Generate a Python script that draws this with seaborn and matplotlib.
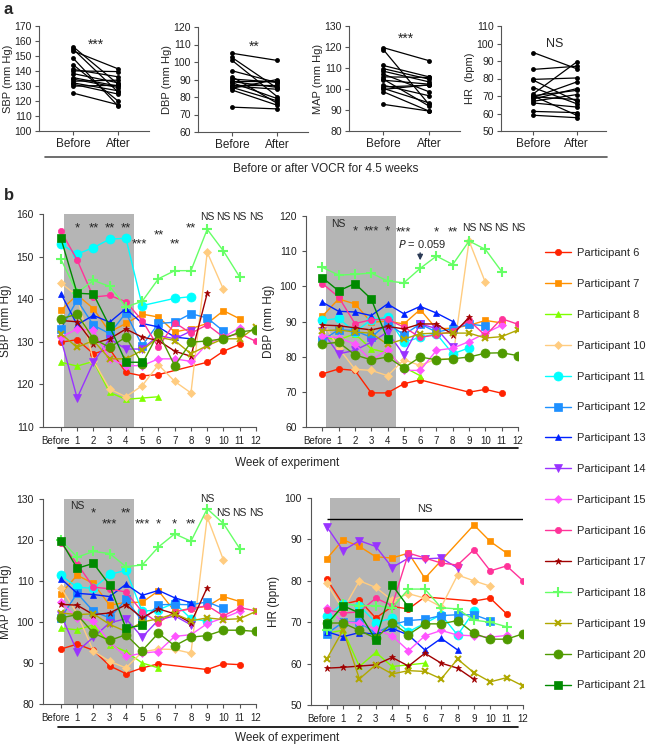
import numpy as np
import pandas as pd
import seaborn as sns
import matplotlib.pyplot as plt
from matplotlib.lines import Line2D
from matplotlib.transforms import ScaledTranslation

nan = np.nan

# ---- panel a: before / after means per participant
sbp_before = [156.3, 154.7, 153.4, 148.7, 144.3, 141.1, 140.1, 138.3, 135.6, 134.6, 133.2, 132.1, 131.2, 129.9, 125.3]
sbp_after = [131.2, 125.9, 141.4, 116.6, 119.9, 136.1, 139.6, 132.1, 129.9, 129.0, 133.9, 126.8, 124.6, 130.5, 117.5]
dbp_before = [105.0, 102.6, 101.0, 95.0, 91.6, 90.3, 89.3, 88.2, 86.9, 85.5, 84.0, 74.2, 86.3, 85.0, 88.8]
dbp_after = [100.9, 85.0, 80.2, 88.2, 76.4, 88.4, 89.3, 79.1, 86.9, 77.8, 75.3, 73.2, 84.4, 90.0, 85.5]
map_before = [119.7, 118.8, 111.2, 109.7, 108.5, 107.1, 104.7, 104.2, 101.8, 101.0, 100.3, 98.7, 92.7, 105.8, 99.8]
map_after = [113.5, 92.7, 105.8, 104.7, 103.4, 98.7, 91.9, 102.3, 96.8, 101.8, 93.4, 89.5, 89.5, 105.5, 102.0]
hr_before = [94.8, 85.2, 79.5, 79.0, 74.8, 71.3, 70.2, 69.2, 68.3, 67.0, 66.0, 61.2, 59.0, 69.5, 70.0]
hr_after = [85.6, 87.0, 80.3, 67.0, 65.6, 89.4, 73.2, 78.0, 74.2, 70.8, 63.7, 60.5, 57.6, 68.0, 59.0]

# ---- panel b: weekly values (Before, week 1..12)
weeks = ['Before'] + [str(i) for i in range(1, 13)]
participants = [6, 7, 8, 10, 11, 12, 13, 14, 15, 16, 17, 18, 19, 20, 21]

sbp = {
    6: [129.9, 130.5, 127.2, 128.3, 122.8, 122.0, 122.3, nan, nan, 125.2, 127.8, 129.4, nan],
    7: [137.4, 141.0, 137.8, 132.3, 134.3, 136.5, 135.8, 132.3, 133.1, 134.3, 137.3, 135.4, nan],
    8: [125.2, 124.3, 125.4, 118.1, 116.5, 116.8, 117.1, nan, nan, nan, nan, nan, nan],
    10: [143.8, 140.8, 125.6, 118.9, 117.1, 119.7, 124.6, 120.7, 118.0, 151.0, 142.3, nan, nan],
    11: [153.0, 150.6, 152.1, 154.1, 154.3, 138.5, nan, 140.2, 140.6, nan, nan, nan, nan],
    12: [133.0, 139.8, 133.9, 131.9, 136.8, 129.1, 134.3, 134.6, 136.6, 135.6, 132.5, nan, nan],
    13: [141.3, 134.0, 136.2, 134.6, 137.8, 134.3, 133.5, 131.1, 130.7, nan, nan, nan, nan],
    14: [130.7, 116.8, 125.2, 130.7, 128.3, 128.3, 131.5, 130.7, 132.5, nan, nan, nan, nan],
    15: [131.1, 133.0, 132.7, 126.0, 124.4, 124.4, 126.0, 126.0, 125.4, 129.5, 131.1, 133.3, nan],
    16: [156.0, 149.2, 140.5, 140.9, 139.4, 135.0, 128.7, 134.5, 132.0, 134.0, 131.1, 131.9, 130.1],
    17: [135.0, 134.7, 129.6, 130.7, 133.0, 131.1, 130.3, 127.8, 126.6, 141.4, nan, nan, nan],
    18: [149.4, 141.5, 144.4, 143.0, 138.2, 139.5, 144.8, 146.7, 146.7, 156.4, 151.3, 145.2, nan],
    19: [131.9, 128.7, 130.3, 126.0, 126.0, 128.0, 131.1, 130.3, 127.2, 129.1, 130.7, 130.7, 133.5],
    20: [135.4, 136.5, 130.7, 128.7, 131.1, 124.8, 132.1, 124.4, 129.9, 130.2, 130.7, 132.3, 132.8],
    21: [154.3, 141.4, 141.2, 133.6, 125.2, 125.2, nan, nan, nan, nan, nan, nan, nan],
}

dbp = {
    6: [75.1, 76.5, 76.1, 69.7, 69.7, 72.3, 73.4, nan, nan, 69.9, 70.7, 69.6, nan],
    7: [91.5, 96.4, 95.0, 89.8, 90.1, 89.3, 93.4, 87.9, 88.1, 88.9, 90.3, 89.6, nan],
    8: [85.5, 84.8, 86.5, 82.2, 81.1, 77.0, 74.6, nan, nan, nan, nan, nan, nan],
    10: [90.1, 82.5, 76.4, 76.1, 74.6, 79.1, 77.5, 79.4, 79.4, 112.9, 101.1, nan, nan],
    11: [90.3, 90.9, 87.0, 90.5, 91.2, 84.1, 85.5, 86.5, 80.8, 82.5, nan, nan, nan],
    12: [84.6, 87.7, 87.4, 85.5, 89.5, 86.2, 89.3, 87.0, 87.9, 89.3, 88.7, nan, nan],
    13: [95.5, 92.9, 92.7, 91.7, 95.0, 92.2, 94.3, 92.4, 90.0, nan, nan, nan, nan],
    14: [87.2, 80.8, 81.8, 84.1, 87.0, 80.5, 89.3, 88.0, 82.7, nan, nan, nan, nan],
    15: [86.0, 85.3, 83.6, 78.9, 82.0, 76.1, 76.1, 81.8, 82.4, 84.3, 86.7, 88.9, nan],
    16: [100.8, 97.0, 89.4, 90.5, 90.6, 88.4, 85.5, 86.2, 87.2, 90.3, 86.0, 90.8, 89.2],
    17: [89.0, 88.8, 88.2, 87.6, 88.6, 87.9, 89.3, 89.3, 86.3, 91.2, nan, nan, nan],
    18: [105.4, 103.2, 103.4, 103.8, 101.5, 101.0, 105.1, 108.6, 106.2, 112.9, 110.5, 104.2, nan],
    19: [87.4, 87.6, 87.0, 86.7, 83.5, 85.0, 86.5, 86.7, 86.7, 86.7, 85.3, 85.7, 87.6],
    20: [83.6, 84.1, 80.5, 79.1, 79.9, 76.8, 79.9, 79.1, 79.4, 79.9, 81.0, 81.1, 80.3],
    21: [102.5, 98.7, 100.8, 96.4, 84.9, nan, nan, nan, nan, nan, nan, nan, nan],
}

mapr = {
    6: [93.4, 94.6, 93.1, 89.3, 87.4, 88.8, 89.8, nan, nan, 88.4, 89.8, 89.6, nan],
    7: [106.9, 111.4, 109.4, 104.1, 104.8, 104.8, 107.6, 102.6, 103.3, 103.8, 106.2, 105.0, nan],
    8: [98.5, 98.1, 99.3, 94.5, 92.8, 90.0, 88.8, nan, nan, nan, nan, nan, nan],
    10: [108.4, 102.0, 92.9, 90.4, 88.8, 92.7, 93.4, 93.3, 92.4, 125.6, 115.1, nan, nan],
    11: [111.4, 108.5, 108.2, 111.6, 112.6, 102.6, 103.0, 104.6, 100.8, 100.2, nan, nan, nan],
    12: [101.0, 107.0, 102.6, 101.0, 105.5, 100.2, 104.2, 104.3, 104.2, 104.9, 103.3, nan, nan],
    13: [110.6, 107.0, 106.7, 106.2, 109.2, 106.5, 107.7, 105.9, 104.7, nan, nan, nan, nan],
    14: [101.8, 92.8, 96.3, 99.8, 100.8, 96.3, 100.5, 101.5, 99.3, nan, nan, nan, nan],
    15: [104.8, 101.0, 100.2, 95.1, 91.6, 92.4, 92.8, 96.5, 96.9, 99.6, 101.0, 102.6, nan],
    16: [119.3, 114.2, 108.5, 108.1, 107.3, 102.5, 99.8, 102.5, 103.2, 104.0, 101.5, 103.5, 102.7],
    17: [104.3, 104.1, 101.8, 102.2, 104.2, 101.0, 103.2, 102.0, 99.8, 108.4, nan, nan, nan],
    18: [120.0, 115.8, 117.2, 116.7, 113.5, 113.9, 118.3, 121.5, 119.7, 127.6, 124.0, 117.9, nan],
    19: [102.2, 101.8, 102.0, 99.4, 97.7, 100.0, 100.8, 102.0, 100.3, 101.0, 100.6, 100.8, 102.6],
    20: [101.0, 101.8, 97.3, 95.5, 96.9, 93.0, 97.3, 94.2, 96.3, 96.7, 98.0, 98.0, 97.7],
    21: [119.8, 113.1, 114.3, 109.0, 98.5, 99.2, nan, nan, nan, nan, nan, nan, nan],
}

hr = {
    6: [80.4, 74.3, 75.3, 71.0, 73.8, 73.2, 76.1, nan, nan, 75.1, 75.8, 72.0, nan],
    7: [85.3, 89.9, 88.3, 85.8, 85.5, 86.7, 80.6, 84.9, nan, 93.5, 89.5, 86.7, nan],
    8: [67.3, 68.1, 59.3, 62.7, 59.3, 59.7, 60.1, nan, nan, nan, nan, nan, nan],
    10: [79.4, 73.0, 80.0, 78.4, 75.3, 76.9, 75.8, 73.7, 81.4, 80.0, 78.7, nan, nan],
    11: [71.5, 74.5, 74.0, 69.9, 71.0, 67.7, nan, 71.8, 66.9, 72.6, nan, nan, nan],
    12: [67.2, 70.0, 70.0, 67.3, 69.4, 70.4, 70.7, 71.6, 71.8, 71.8, 70.4, nan, nan],
    13: [67.7, 66.5, 67.5, 67.1, 68.5, 66.9, 63.3, 66.1, 63.3, nan, nan, nan, nan],
    14: [93.1, 87.3, 89.7, 88.3, 83.2, 85.5, 85.3, 85.5, 83.1, nan, nan, nan, nan],
    15: [73.4, 70.0, 69.8, 68.3, 66.7, 63.1, 66.7, 68.0, 66.9, 66.7, 66.4, 66.8, nan],
    16: [73.0, 72.2, 72.5, 75.8, 74.0, 86.7, 85.5, 84.3, 83.8, 87.5, 82.4, 83.6, 80.0],
    17: [58.9, 59.1, 59.4, 59.7, 61.5, 59.4, 62.5, 60.1, 58.9, 56.2, nan, nan, nan],
    18: [68.0, 74.5, 74.0, 74.0, 73.5, 78.0, 78.0, 73.5, 73.2, 70.5, 70.0, 68.9, nan],
    19: [61.1, 68.1, 56.3, 59.7, 57.5, 58.3, 58.1, 56.3, 61.1, 57.8, 55.6, 56.6, 54.6],
    20: [69.8, 69.8, 68.0, 66.1, 69.8, 67.0, 69.6, 69.6, 70.4, 67.3, 65.9, 65.9, 67.2],
    21: [69.5, 74.0, 72.2, 65.7, 79.0, 73.6, nan, nan, nan, nan, nan, nan, nan],
}

colors = {6: '#ff2200', 7: '#ff9100', 8: '#7fff00', 10: '#ffcc80', 11: '#00ffff',
          12: '#1e90ff', 13: '#0022ff', 14: '#9933ff', 15: '#ff55ff', 16: '#ff3399',
          17: '#a00000', 18: '#66ff66', 19: '#b0a800', 20: '#4f9a00', 21: '#008a00'}
marks = {6: 'o', 7: 's', 8: '^', 10: 'D', 11: 'o', 12: 's', 13: '^', 14: 'v',
         15: 'D', 16: 'o', 17: '*', 18: '+', 19: 'x', 20: 'o', 21: 's'}
msize = {6: 4.5, 7: 4.5, 8: 4.5, 10: 4.2, 11: 6.5, 12: 5.5, 13: 5, 14: 5.5, 15: 4.2,
         16: 4.5, 17: 5, 18: 6.5, 19: 5, 20: 6.5, 21: 5.5}

sns.set_style('ticks')
plt.rcParams['font.family'] = ['Liberation Sans', 'DejaVu Sans']
plt.rcParams['axes.edgecolor'] = '#555555'
plt.rcParams['xtick.color'] = '#555555'
plt.rcParams['ytick.color'] = '#555555'
plt.rcParams['xtick.labelcolor'] = '#222222'
plt.rcParams['ytick.labelcolor'] = '#222222'

W, H = 649, 745
fig = plt.figure(figsize=(W / 100, H / 100), dpi=100)


def rect(x0, x1, y0, y1):
    return [x0 / W, 1 - y1 / H, (x1 - x0) / W, (y1 - y0) / H]


def sig_size(s):
    # asterisks sit high and small in this font, so give them a bigger size
    return 9.5 if s.startswith('*') else 7.5


# ---------------- panel a
a_specs = [
    (rect(39, 149, 26, 131), sbp_before, sbp_after, (100, 170), 'SBP (mm Hg)', '***', 157.5),
    (rect(198, 308, 27, 132), dbp_before, dbp_after, (60, 120), 'DBP (mm Hg)', '**', 108.5),
    (rect(349, 460, 26, 131), map_before, map_after, (80, 130), 'MAP (mm Hg)', '***', 124.0),
    (rect(501, 606, 26, 131), hr_before, hr_after, (50, 110), 'HR  (bpm)', 'NS', 99.5),
]
for r, bef, aft, ylim, ylab, sig, sy in a_specs:
    ax = fig.add_axes(r)
    n = len(bef)
    df = pd.DataFrame({'pid': list(range(n)) * 2, 'cond': [0] * n + [1] * n,
                       'val': bef + aft})
    sns.lineplot(data=df, x='cond', y='val', units='pid', estimator=None,
                 color='black', marker='o', markersize=3.5, markeredgewidth=0,
                 linewidth=0.9, ax=ax)
    ax.set_xlim(-0.75, 1.68)
    ax.set_ylim(*ylim)
    ax.set_yticks(np.arange(ylim[0], ylim[1] + 1, 10))
    ax.set_xticks([0, 1])
    ax.set_xticklabels(['Before', 'After'])
    ax.set_xlabel('')
    ax.set_ylabel(ylab, fontsize=8, labelpad=1)
    ax.tick_params(labelsize=7.5, length=3, width=0.8, pad=2)
    ax.tick_params(axis='x', labelsize=8.5)
    sns.despine(ax=ax)
    ax.text(0.5, sy, sig, ha='center', va='center',
            fontsize=10 if sig.startswith('*') else 9)

fig.add_artist(Line2D([45 / W, 607 / W], [1 - 157 / H] * 2, color='#555555', lw=1.2))
fig.text(326 / W, 1 - 169 / H, 'Before or after VOCR for 4.5 weeks', ha='center',
         va='center', fontsize=8.5)
fig.text(4 / W, 1 - 10 / H, 'a', fontsize=12, fontweight='bold', va='center')
fig.text(4 / W, 1 - 196 / H, 'b', fontsize=12, fontweight='bold', va='center')

# ---------------- panel b
b_specs = [
    (rect(43, 256, 214, 427), sbp, (110, 160), -1.1, 'SBP (mm Hg)'),
    (rect(306, 518, 216, 427), dbp, (60, 120), -1.0, 'DBP (mm Hg)'),
    (rect(43, 256, 499, 704), mapr, (80, 130), -1.1, 'MAP (mm Hg)'),
    (rect(311, 523, 498, 705), hr, (50, 100), -0.96, 'HR (bpm)'),
]
shift = ScaledTranslation(-5 / 100, 0, fig.dpi_scale_trans)
axes_b = []
for r, data, ylim, xl, ylab in b_specs:
    ax = fig.add_axes(r)
    ax.axvspan(0.2, 4.5, color='#b5b5b5', zorder=0, lw=0)
    for p in participants:
        d = pd.DataFrame({'week': np.arange(13), 'val': data[p]}).dropna()
        mew = 1.5 if marks[p] in ['+', 'x'] else 0.5
        sns.lineplot(data=d, x='week', y='val', color=colors[p], marker=marks[p],
                     markersize=msize[p], markeredgecolor=colors[p], markeredgewidth=mew,
                     linewidth=1, estimator=None, sort=False, ax=ax,
                     label='Participant %d' % p)
    ax.set_xlim(xl, 12)
    ax.set_ylim(*ylim)
    ax.set_yticks(np.arange(ylim[0], ylim[1] + 1, 10))
    ax.set_xticks(range(13))
    ax.set_xticklabels(weeks)
    ax.set_xlabel('')
    ax.set_ylabel(ylab, fontsize=8.5, labelpad=3)
    ax.tick_params(labelsize=7.5, length=3, width=0.8)
    ax.tick_params(axis='x', labelsize=7)
    lab0 = ax.get_xticklabels()[0]
    lab0.set_transform(lab0.get_transform() + shift)
    sns.despine(ax=ax)
    axes_b.append(ax)

handles, labels = axes_b[0].get_legend_handles_labels()
for ax in axes_b:
    ax.get_legend().remove()
fig.legend(handles, labels, loc='upper left', bbox_to_anchor=(545 / W, 1 - 248 / H),
           frameon=False, fontsize=8, labelspacing=1.88, handlelength=2.3,
           handletextpad=0.6, borderaxespad=0, borderpad=0)

# significance marks
ax1, ax2, ax3, ax4 = axes_b
sbp_sig = ['*', '**', '**', '**', '***', '**', '**', '**', 'NS', 'NS', 'NS', 'NS']
sbp_sig_y = [156.6, 156.6, 156.6, 156.6, 152.9, 155.0, 152.9, 156.6, 159.3, 159.3, 159.3, 159.3]
for i, (s, y) in enumerate(zip(sbp_sig, sbp_sig_y)):
    ax1.text(i + 1 - (0.15 if s == '***' else 0), y, s, ha='center', va='center',
             fontsize=sig_size(s))

dbp_sig = ['NS', '*', '***', '*', '***', '', '*', '**', 'NS', 'NS', 'NS', 'NS']
dbp_sig_y = [117.7, 115.7, 115.7, 115.7, 115.4, 0, 115.4, 115.4, 116.6, 116.6, 116.6, 116.6]
for i, (s, y) in enumerate(zip(dbp_sig, dbp_sig_y)):
    if s:
        ax2.text(i + 1, y, s, ha='center', va='center', fontsize=sig_size(s))
ax2.text(6.1, 112.0, r'$\it{P}$ = 0.059', ha='center', va='center', fontsize=8)
ax2.annotate('', xy=(6, 106.6), xytext=(6, 110.3),
             arrowprops=dict(arrowstyle='-|>', color='#2b3a55', lw=1, mutation_scale=8))

map_sig = ['NS', '*', '***', '**', '***', '*', '*', '**', 'NS', 'NS', 'NS', 'NS']
map_sig_y = [128.3, 126.5, 123.8, 126.5, 123.8, 123.8, 123.8, 123.8, 130.0, 126.6, 126.6, 126.6]
for i, (s, y) in enumerate(zip(map_sig, map_sig_y)):
    ax3.text(i + 1, y, s, ha='center', va='center', fontsize=sig_size(s), clip_on=False)

ax4.hlines(94.9, 0, 12, color='black', lw=1)
ax4.text(6, 97.3, 'NS', ha='center', va='center', fontsize=8)

for yl, yt in [(448, 463), (727, 738)]:
    fig.add_artist(Line2D([58 / W, 518 / W], [1 - yl / H] * 2, color='black', lw=1.2))
    fig.text(287 / W, 1 - yt / H, 'Week of experiment', ha='center', va='center', fontsize=8.5)

fig.savefig('out.png', dpi=100)
